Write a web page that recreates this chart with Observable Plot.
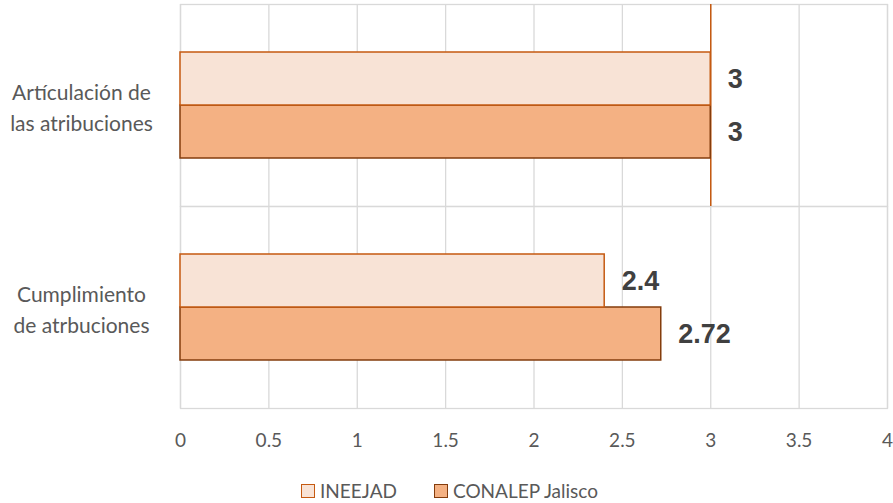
<!DOCTYPE html>
<html>
<head>
<meta charset="utf-8">
<script src="https://cdn.jsdelivr.net/npm/d3@7"></script>
<script src="https://cdn.jsdelivr.net/npm/@observablehq/plot@0.6"></script>
<style>
  body { margin: 0; background: #fff; }
  #legend { display: flex; justify-content: center; gap: 37px; font-family: Lato, sans-serif; font-size: 19px; color: #595959; margin-top: 16px; padding-left: 6px; }
  #legend span.item { display: flex; align-items: center; gap: 5px; }
  #legend span.sw { width: 12px; height: 12px; display: inline-block; border: 1.5px solid; }
</style>
</head>
<body>
<div id="chart"></div>
<div id="legend"></div>
<script>
const categories = ["Artículación de las atribuciones", "Cumplimiento de atrbuciones"];
const categoryLabels = ["Artículación de\nlas atribuciones", "Cumplimiento\nde atrbuciones"];
const series = ["INEEJAD", "CONALEP Jalisco"];
const ineejadValues = [3, 2.4];
const conalepValues = [3, 2.72];
const xTicks = [0, 0.5, 1, 1.5, 2, 2.5, 3, 3.5, 4];
const fills = ["#F8E3D6", "#F4B183"];
const strokes = ["#C55A11", "#843C0C"];

const data = [];
categories.forEach((c, i) => {
  data.push({category: c, series: series[0], value: ineejadValues[i]});
  data.push({category: c, series: series[1], value: conalepValues[i]});
});
const labelData = categories.map((c, i) => ({category: c, label: categoryLabels[i]}));
const ine = data.filter(d => d.series === series[0]);
const con = data.filter(d => d.series === series[1]);

const plot = Plot.plot({
  width: 893,
  height: 463,
  marginLeft: 180,
  marginRight: 6,
  marginTop: 4,
  marginBottom: 55,
  x: {domain: [0, 4], ticks: xTicks, label: null},
  y: {domain: series, paddingInner: 0, paddingOuter: 0.9, axis: null},
  fy: {domain: categories, padding: 0, axis: null},
  marks: [
    Plot.ruleX(xTicks, {stroke: "#d9d9d9", strokeWidth: 1.3}),
    Plot.frame({stroke: "#d9d9d9", strokeWidth: 1.3}),
    Plot.ruleX(ine.filter(d => d.category === categories[0]), {x: "value", fy: "category", stroke: strokes[0], strokeWidth: 1.5}),
    Plot.barX(con, {x: "value", y: "series", fy: "category", fill: fills[1], stroke: strokes[1], strokeWidth: 1.5}),
    Plot.barX(ine, {x: "value", y: "series", fy: "category", fill: fills[0], stroke: strokes[0], strokeWidth: 1.5}),
    Plot.text(data, {x: "value", y: "series", fy: "category", text: d => String(d.value), textAnchor: "start", dx: 17, fontSize: 27, fontWeight: "bold", fill: "#404040", fontFamily: "Liberation Sans, Arial, sans-serif"}),
    Plot.text(labelData, {fy: "category", text: "label", frameAnchor: "left", dx: -99, textAnchor: "middle", fontSize: 21, lineHeight: 1.5, fill: "#595959", fontFamily: "Lato, sans-serif"}),
    Plot.axisX(xTicks, {anchor: "bottom", tickSize: 0, tickPadding: 25, fontSize: 19, fill: "#595959", fontFamily: "Lato, sans-serif", tickFormat: d => String(d), label: null})
  ]
});
document.getElementById("chart").appendChild(plot);

const legend = document.getElementById("legend");
series.forEach((s, i) => {
  const item = document.createElement("span");
  item.className = "item";
  const sw = document.createElement("span");
  sw.className = "sw";
  sw.style.background = fills[i];
  sw.style.borderColor = strokes[i];
  item.appendChild(sw);
  item.appendChild(document.createTextNode(s));
  legend.appendChild(item);
});
</script>
</body>
</html>
